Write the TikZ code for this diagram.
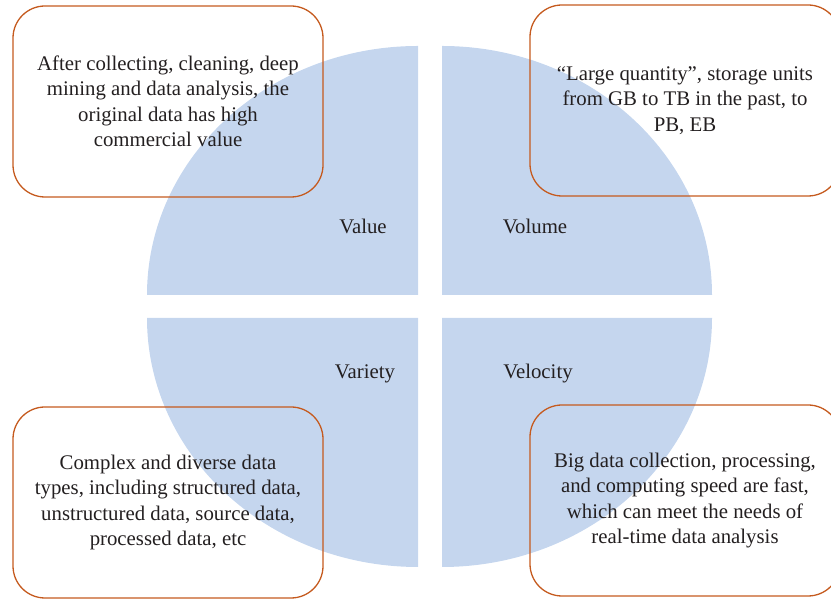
\documentclass[tikz,border=0pt]{standalone}
\usepackage{fontspec}
\setmainfont{Liberation Serif}
\definecolor{quad}{RGB}{197,214,238}
\definecolor{boxline}{RGB}{197,90,30}
\definecolor{txt}{RGB}{35,31,32}
\begin{document}
\begin{tikzpicture}[x=1pt,y=1pt,
  box/.style={draw=boxline, line width=1.3pt, rounded corners=32pt,
    minimum width=310pt, minimum height=191pt, align=center,
    text=txt, font=\fontsize{20.8}{25.5}\selectfont, inner sep=0pt},
  lbl/.style={text=txt, font=\fontsize{20.8}{25.5}\selectfont, inner sep=0pt}]
\useasboundingbox (0,0) rectangle (831,599);
\clip (0,0) rectangle (831,599);
% quadrants
\fill[quad] (418,304) -- ++(-271,0) arc[start angle=180,end angle=90,x radius=271pt,y radius=249pt] -- cycle;
\fill[quad] (442,304) -- ++(0,249) arc[start angle=90,end angle=0,x radius=270pt,y radius=249pt] -- cycle;
\fill[quad] (418,281) -- ++(-271,0) arc[start angle=180,end angle=270,x radius=271pt,y radius=249pt] -- cycle;
\fill[quad] (442,281) -- ++(270,0) arc[start angle=0,end angle=-90,x radius=270pt,y radius=249pt] -- cycle;
% labels
\node[lbl] (value) at (363,373) {Value};
\node[lbl] (volume) at (535,373) {Volume};
\node[lbl] (variety) at (365,225.5) {Variety};
\node[lbl] (velocity) at (538,225.5) {Velocity};
% boxes
\node[box] (tl) at (168,497.5) {After collecting, cleaning, deep\\mining and data analysis, the\\original data has high\\commercial value};
\node[box] (tr) at (685,498.5) {``Large quantity'', storage units\\from GB to TB in the past, to\\PB, EB};
\node[box] (bl) at (168,96.5) {Complex and diverse data\\types, including structured data,\\unstructured data, source data,\\processed data, etc};
\node[box] (br) at (685,98.5) {Big data collection, processing,\\and computing speed are fast,\\which can meet the needs of\\real-time data analysis};
\end{tikzpicture}
\end{document}
